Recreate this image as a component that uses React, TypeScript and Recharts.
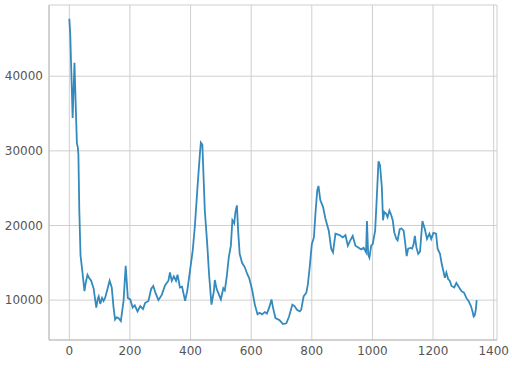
import { LineChart, Line, XAxis, YAxis, CartesianGrid } from 'recharts';

const xs = [
  0, 3, 11, 17, 22, 25, 28, 30, 33, 37, 44, 50, 55, 60, 65, 72, 80, 89, 94, 97,
  102, 108, 113, 118, 124, 133, 140, 146, 151, 156, 162, 170, 179, 186, 193, 201, 209, 216, 225, 234,
  243, 250, 261, 270, 277, 284, 294, 305, 316, 327, 332, 338, 345, 352, 357, 365, 372, 382, 389, 398,
  407, 414, 423, 431, 434, 439, 447, 455, 461, 469, 477, 480, 486, 491, 500, 508, 513, 519, 526, 533,
  538, 544, 548, 553, 557, 562, 570, 579, 587, 593, 599, 604, 612, 621, 628, 636, 645, 652, 661, 667,
  672, 680, 694, 705, 716, 725, 736, 743, 751, 760, 765, 773, 782, 787, 793, 800, 807, 812, 818, 822,
  828, 837, 845, 856, 864, 870, 878, 885, 893, 902, 911, 919, 927, 935, 944, 952, 963, 971, 979, 982,
  986, 990, 996, 1001, 1009, 1014, 1020, 1025, 1031, 1035, 1039, 1045, 1050, 1056, 1061, 1067, 1072, 1079, 1083, 1090,
  1096, 1103, 1108, 1113, 1118, 1125, 1131, 1136, 1140, 1145, 1151, 1157, 1162, 1165, 1173, 1180, 1188, 1194, 1201, 1210,
  1215, 1223, 1228, 1234, 1239, 1244, 1250, 1255, 1261, 1270, 1277, 1286, 1294, 1302, 1310, 1317, 1325, 1330, 1334, 1337,
  1341, 1344,
];

const values = [
  47700, 45700, 34400, 41800, 35000, 31000, 30500, 29500, 22000, 16000, 13500, 11200, 12500, 13400, 13000, 12600, 11600, 9000, 10200, 10500,
  9500, 10300, 9900, 10300, 11200, 12600, 11700, 9000, 7400, 7700, 7600, 7200, 9900, 14600, 10300, 10100, 9000, 9300, 8500, 9200,
  8800, 9600, 9900, 11500, 11900, 11000, 10000, 10700, 12000, 12600, 13700, 12600, 13200, 12600, 13400, 11700, 11800, 9900, 11200, 13900,
  16600, 19800, 25200, 29700, 31100, 30800, 22000, 17500, 13500, 9400, 11200, 12700, 11500, 11000, 10100, 11600, 11300, 13000, 15700, 17300,
  20700, 20300, 21800, 22700, 19300, 16200, 15000, 14400, 13500, 13000, 12100, 11200, 9400, 8100, 8300, 8100, 8400, 8200, 9200, 10100,
  9000, 7600, 7300, 6800, 6900, 7800, 9400, 9200, 8700, 8500, 8700, 10500, 11000, 12100, 14400, 17500, 18400, 21600, 24700, 25300,
  23400, 22500, 20900, 19300, 16900, 16400, 18900, 18800, 18700, 18400, 18700, 17300, 18000, 18600, 17300, 17100, 16800, 17000, 16400, 20600,
  16100, 15700, 17300, 17500, 19300, 23400, 28600, 28100, 25200, 20700, 21800, 21600, 21100, 22000, 21500, 20700, 19100, 18200, 18000, 19500,
  19600, 19300, 17700, 15900, 16900, 17000, 16900, 17500, 18600, 17100, 16200, 16500, 19100, 20600, 19500, 18200, 18900, 18200, 19000, 18900,
  16900, 16200, 15000, 13900, 13000, 13700, 12800, 12600, 11900, 11700, 12300, 11700, 11200, 11000, 10300, 9900, 9200, 8500, 7800, 7900,
  8700, 10000,
];

const xTicks = [0, 200, 400, 600, 800, 1000, 1200, 1400];
const yTicks = [10000, 20000, 30000, 40000];

const data = xs.map((x, i) => ({ x, y: values[i] }));

const tickStyle = { fontSize: 12, fill: '#555555', fontFamily: 'DejaVu Sans' };
const frame = '#bcbcbc';

export default function App() {
  return (
    <div style={{ position: 'absolute', left: 0, top: 0, background: '#fff' }}>
      <LineChart width={512} height={368} data={data} margin={{ top: 5, right: 15, bottom: 0, left: 0 }}>
        <CartesianGrid stroke="#cfcfcf" strokeWidth={1} />
        <XAxis
          dataKey="x"
          type="number"
          domain={[-67, 1411]}
          ticks={xTicks}
          allowDataOverflow
          height={28}
          stroke={frame}
          tickLine={false}
          tick={tickStyle}
          tickMargin={0}
        />
        <XAxis xAxisId="top" orientation="top" type="number" domain={[-67, 1411]} height={0} tick={false} tickLine={false} stroke={frame} />
        <YAxis
          type="number"
          domain={[4660, 49540]}
          ticks={yTicks}
          allowDataOverflow
          width={49}
          stroke={frame}
          tickLine={false}
          tick={tickStyle}
          tickMargin={0}
        />
        <YAxis yAxisId="right" orientation="right" type="number" domain={[4660, 49540]} width={0} tick={false} tickLine={false} stroke={frame} />
        <Line
          dataKey="y"
          type="linear"
          stroke="#348abd"
          strokeWidth={1.8}
          dot={false}
          isAnimationActive={false}
        />
      </LineChart>
    </div>
  );
}
